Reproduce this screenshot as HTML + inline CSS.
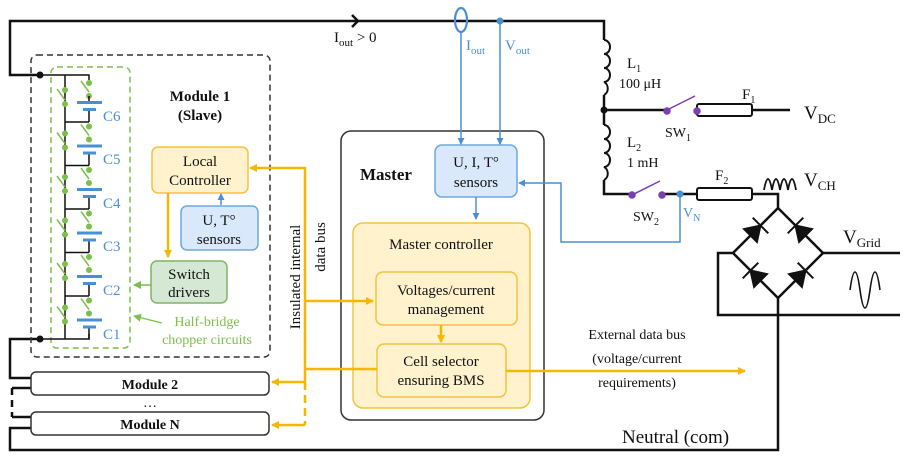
<!DOCTYPE html>
<html><head><meta charset="utf-8"><style>
body{margin:0;background:#fff}
svg{display:block}
text{font-family:"Liberation Serif",serif;fill:#111}
.b{fill:#4a8fd6}.g{fill:#7cbf4a}
</style></head><body>
<svg width="904" height="457" viewBox="0 0 904 457" xmlns="http://www.w3.org/2000/svg">
<defs>
<marker id="ay" markerWidth="8" markerHeight="8" refX="7" refY="4" orient="auto" markerUnits="userSpaceOnUse"><path d="M0,0L8,4L0,8z" fill="#f5b800"/></marker>
<marker id="ab" markerWidth="7" markerHeight="7" refX="6" refY="3.5" orient="auto" markerUnits="userSpaceOnUse"><path d="M0,0L7,3.5L0,7z" fill="#4a8fd6"/></marker>
<marker id="ag" markerWidth="8" markerHeight="8" refX="7" refY="4" orient="auto" markerUnits="userSpaceOnUse"><path d="M0,0L8,4L0,8z" fill="#7cbf4a"/></marker>
</defs>
<g fill="none" stroke="#111" stroke-width="2.5">
<polyline points="40,75 10,75 10,21 604,21 604,40"/>
<polyline points="604,95 604,125"/>
<polyline points="604,180 604,194 632,194"/>
<polyline points="662,194 697,194"/>
<polyline points="752,194 778,194 778,208 823,253 778,298 733,253 778,208"/>
<polyline points="823,253 900,253"/>
<polyline points="733,253 718,253 718,315 900,315"/>
<polyline points="778,298 778,450 10,450 10,428 31,428"/>
<polyline points="604,110 667,110"/>
<polyline points="697,110 697,110"/>
<polyline points="752,110 790,110"/>
<polyline points="40,339 10,339 10,378 31,378"/>
<polyline points="31,388 12,388"/>
<polyline points="12,388 12,417" stroke-dasharray="7,5"/>
<polyline points="12,417 31,417"/>
<path d="M352,15L358,21L352,27"/>
</g>
<g fill="none" stroke="#111" stroke-width="2">
<path d="M604,40 a6,7 0 0 1 0,14 a6,7 0 0 1 0,14 a6,7 0 0 1 0,14 a6,7 0 0 1 0,13"/>
<path d="M604,125 a6,7 0 0 1 0,14 a6,7 0 0 1 0,14 a6,7 0 0 1 0,14 a6,7 0 0 1 0,13"/>
<rect x="697" y="104" width="55" height="12" rx="2"/>
<rect x="697" y="188" width="55" height="12" rx="2"/>
<path d="M764,190 q4,-22 8,0 q4,-22 8,0 q4,-22 8,0 q4,-22 8,0" stroke-width="1.8"/>
<path d="M850,290 q5,-36 10,0 t10,0 t10,0" stroke-width="1.6"/>
</g>
<circle cx="604" cy="110" r="3.5" fill="#111"/>
<g stroke="#7b3fb0" stroke-width="1.5" fill="#7b3fb0">
<line x1="667" y1="110" x2="695" y2="96"/><circle cx="667" cy="111" r="3"/><circle cx="697" cy="111" r="3"/>
<line x1="632" y1="195" x2="660" y2="181"/><circle cx="632" cy="195" r="3"/><circle cx="662" cy="195" r="3"/>
</g>
<!-- diodes -->
<g fill="#111" stroke="#111" stroke-width="2">
<path d="M760.5,225.5L756.9,241.9L744.1,229.1z"/><line x1="768.3" y1="233.3" x2="752.7" y2="217.7"/>
<path d="M795.5,225.5L811.9,229.1L799.1,241.9z"/><line x1="803.3" y1="217.7" x2="787.7" y2="233.3"/>
<path d="M750.5,270.5L766.9,274.1L754.1,286.9z"/><line x1="758.3" y1="262.7" x2="742.7" y2="278.3"/>
<path d="M805.5,270.5L801.9,286.9L789.1,274.1z"/><line x1="813.3" y1="278.3" x2="797.7" y2="262.7"/>
</g>
<text x="627" y="68" font-size="15">L<tspan font-size="10" dy="4">1</tspan></text>
<text x="619" y="88" font-size="14">100 μH</text>
<text x="742" y="99" font-size="15">F<tspan font-size="10" dy="4">1</tspan></text>
<text x="804" y="119" font-size="19">V<tspan font-size="13" dy="4">DC</tspan></text>
<text x="665" y="137" font-size="14">SW<tspan font-size="10" dy="4">1</tspan></text>
<text x="627" y="147" font-size="15">L<tspan font-size="10" dy="4">2</tspan></text>
<text x="627" y="167" font-size="14">1 mH</text>
<text x="715" y="180" font-size="15">F<tspan font-size="10" dy="4">2</tspan></text>
<text x="804" y="186" font-size="19">V<tspan font-size="13" dy="4">CH</tspan></text>
<text x="633" y="221" font-size="14">SW<tspan font-size="10" dy="4">2</tspan></text>
<text x="683" y="217" font-size="14" class="b">V<tspan font-size="10" dy="4">N</tspan></text>
<text x="843" y="243" font-size="19">V<tspan font-size="13" dy="4">Grid</tspan></text>
<text x="334" y="42" font-size="15">I<tspan font-size="11" dy="4">out</tspan><tspan dy="-4"> &gt; 0</tspan></text>
<text x="622" y="443" font-size="19">Neutral (com)</text>
<text x="637" y="339" font-size="14" text-anchor="middle">External  data bus</text>
<text x="637" y="363" font-size="14" text-anchor="middle">(voltage/current</text>
<text x="637" y="387" font-size="14" text-anchor="middle">requirements)</text>
<!-- module 1 -->
<rect x="31" y="55" width="239" height="302" rx="6" fill="none" stroke="#333" stroke-width="1.5" stroke-dasharray="6,4"/>
<rect x="51" y="67" width="79" height="281" rx="6" fill="none" stroke="#7cbf4a" stroke-width="1.5" stroke-dasharray="6,4"/>
<text x="200" y="101" font-size="15" font-weight="bold" text-anchor="middle">Module 1</text>
<text x="200" y="120" font-size="15" font-weight="bold" text-anchor="middle">(Slave)</text>
<g stroke="#111" stroke-width="1.5" fill="none">
<polyline points="40,75 89,75 89,80"/>
<line x1="65" y1="75" x2="65" y2="339"/>
<polyline points="40,339 89,339 89,334"/>
</g>
<circle cx="40" cy="75" r="3.5" fill="#111"/><circle cx="40" cy="339" r="3.5" fill="#111"/>
<g>
<g transform="translate(0,0)"><line x1="65" y1="122" x2="89" y2="122" stroke="#111" stroke-width="1.5"/><line x1="89" y1="108" x2="89" y2="122" stroke="#111" stroke-width="1.5"/><line x1="57" y1="89" x2="65" y2="100" stroke="#7cbf4a" stroke-width="1.5"/><circle cx="65" cy="90" r="3" class="g"/><circle cx="65" cy="104" r="3" class="g"/><line x1="81" y1="81" x2="89" y2="92" stroke="#7cbf4a" stroke-width="1.5"/><circle cx="89" cy="83" r="3" class="g"/><circle cx="89" cy="96" r="3" class="g"/><line x1="89" y1="96" x2="89" y2="102" stroke="#111" stroke-width="1.5"/><rect x="77" y="101" width="25" height="3" class="b"/><rect x="83" y="108" width="13" height="3" class="b"/></g>
<g transform="translate(0,43.5)"><line x1="65" y1="122" x2="89" y2="122" stroke="#111" stroke-width="1.5"/><line x1="89" y1="108" x2="89" y2="122" stroke="#111" stroke-width="1.5"/><line x1="57" y1="89" x2="65" y2="100" stroke="#7cbf4a" stroke-width="1.5"/><circle cx="65" cy="90" r="3" class="g"/><circle cx="65" cy="104" r="3" class="g"/><line x1="81" y1="81" x2="89" y2="92" stroke="#7cbf4a" stroke-width="1.5"/><circle cx="89" cy="83" r="3" class="g"/><circle cx="89" cy="96" r="3" class="g"/><rect x="77" y="101" width="25" height="3" class="b"/><rect x="83" y="108" width="13" height="3" class="b"/></g>
<g transform="translate(0,87)"><line x1="65" y1="122" x2="89" y2="122" stroke="#111" stroke-width="1.5"/><line x1="89" y1="108" x2="89" y2="122" stroke="#111" stroke-width="1.5"/><line x1="57" y1="89" x2="65" y2="100" stroke="#7cbf4a" stroke-width="1.5"/><circle cx="65" cy="90" r="3" class="g"/><circle cx="65" cy="104" r="3" class="g"/><line x1="81" y1="81" x2="89" y2="92" stroke="#7cbf4a" stroke-width="1.5"/><circle cx="89" cy="83" r="3" class="g"/><circle cx="89" cy="96" r="3" class="g"/><rect x="77" y="101" width="25" height="3" class="b"/><rect x="83" y="108" width="13" height="3" class="b"/></g>
<g transform="translate(0,130.5)"><line x1="65" y1="122" x2="89" y2="122" stroke="#111" stroke-width="1.5"/><line x1="89" y1="108" x2="89" y2="122" stroke="#111" stroke-width="1.5"/><line x1="57" y1="89" x2="65" y2="100" stroke="#7cbf4a" stroke-width="1.5"/><circle cx="65" cy="90" r="3" class="g"/><circle cx="65" cy="104" r="3" class="g"/><line x1="81" y1="81" x2="89" y2="92" stroke="#7cbf4a" stroke-width="1.5"/><circle cx="89" cy="83" r="3" class="g"/><circle cx="89" cy="96" r="3" class="g"/><rect x="77" y="101" width="25" height="3" class="b"/><rect x="83" y="108" width="13" height="3" class="b"/></g>
<g transform="translate(0,174)"><line x1="65" y1="122" x2="89" y2="122" stroke="#111" stroke-width="1.5"/><line x1="89" y1="108" x2="89" y2="122" stroke="#111" stroke-width="1.5"/><line x1="57" y1="89" x2="65" y2="100" stroke="#7cbf4a" stroke-width="1.5"/><circle cx="65" cy="90" r="3" class="g"/><circle cx="65" cy="104" r="3" class="g"/><line x1="81" y1="81" x2="89" y2="92" stroke="#7cbf4a" stroke-width="1.5"/><circle cx="89" cy="83" r="3" class="g"/><circle cx="89" cy="96" r="3" class="g"/><rect x="77" y="101" width="25" height="3" class="b"/><rect x="83" y="108" width="13" height="3" class="b"/></g>
<g transform="translate(0,217.5)"><line x1="89" y1="108" x2="89" y2="122" stroke="#111" stroke-width="1.5"/><line x1="57" y1="89" x2="65" y2="100" stroke="#7cbf4a" stroke-width="1.5"/><circle cx="65" cy="90" r="3" class="g"/><circle cx="65" cy="104" r="3" class="g"/><line x1="81" y1="81" x2="89" y2="92" stroke="#7cbf4a" stroke-width="1.5"/><circle cx="89" cy="83" r="3" class="g"/><circle cx="89" cy="96" r="3" class="g"/><rect x="77" y="101" width="25" height="3" class="b"/><rect x="83" y="108" width="13" height="3" class="b"/></g>
</g>
<g font-size="15">
<text x="103" y="121" class="b">C6</text><text x="103" y="164" class="b">C5</text><text x="103" y="208" class="b">C4</text>
<text x="103" y="251" class="b">C3</text><text x="103" y="295" class="b">C2</text><text x="103" y="339" class="b">C1</text>
</g>
<rect x="152" y="147" width="96" height="46" rx="6" fill="#fff2cc" stroke="#f5c242" stroke-width="1.5"/>
<text x="200" y="166" font-size="15" text-anchor="middle">Local</text>
<text x="200" y="185" font-size="15" text-anchor="middle">Controller</text>
<rect x="181" y="206" width="77" height="44" rx="6" fill="#dae8fc" stroke="#6fa8dc" stroke-width="1.5"/>
<text x="219" y="225" font-size="15" text-anchor="middle">U, T°</text>
<text x="219" y="244" font-size="15" text-anchor="middle">sensors</text>
<rect x="151" y="261" width="76" height="42" rx="6" fill="#d5e8d4" stroke="#82b366" stroke-width="1.5"/>
<text x="189" y="279" font-size="15" text-anchor="middle">Switch</text>
<text x="189" y="297" font-size="15" text-anchor="middle">drivers</text>
<line x1="168" y1="193" x2="168" y2="257" stroke="#f5b800" stroke-width="2.5" marker-end="url(#ay)"/>
<line x1="151" y1="285" x2="134" y2="285" stroke="#7cbf4a" stroke-width="1.5" marker-end="url(#ag)"/>
<line x1="162" y1="323" x2="134" y2="316" stroke="#7cbf4a" stroke-width="1.2" marker-end="url(#ag)"/>
<text x="207" y="326" font-size="14" text-anchor="middle" class="g">Half-bridge</text>
<text x="207" y="344" font-size="14" text-anchor="middle" class="g">chopper circuits</text>
<rect x="31" y="372" width="238" height="23" rx="5" fill="#fff" stroke="#333" stroke-width="1.5"/>
<text x="150" y="389" font-size="14" font-weight="bold" text-anchor="middle">Module 2</text>
<text x="150" y="407" font-size="14" text-anchor="middle">…</text>
<rect x="31" y="412" width="238" height="23" rx="5" fill="#fff" stroke="#333" stroke-width="1.5"/>
<text x="150" y="429" font-size="14" font-weight="bold" text-anchor="middle">Module N</text>
<!-- master -->
<rect x="341" y="131" width="203" height="289" rx="10" fill="#fff" stroke="#333" stroke-width="1.5"/>
<text x="360" y="180" font-size="17" font-weight="bold">Master</text>
<rect x="435" y="145" width="82" height="52" rx="7" fill="#dae8fc" stroke="#6fa8dc" stroke-width="1.5"/>
<text x="476" y="167" font-size="15" text-anchor="middle">U, I, T°</text>
<text x="476" y="187" font-size="15" text-anchor="middle">sensors</text>
<rect x="353" y="223" width="177" height="185" rx="10" fill="#fff2cc" stroke="#f5c242" stroke-width="1.5"/>
<text x="441" y="249" font-size="15" text-anchor="middle">Master controller</text>
<rect x="376" y="272" width="141" height="53" rx="7" fill="#fff2cc" stroke="#f5c242" stroke-width="1.5"/>
<text x="446" y="295" font-size="15" text-anchor="middle">Voltages/current</text>
<text x="446" y="314" font-size="15" text-anchor="middle">management</text>
<rect x="377" y="344" width="129" height="53" rx="7" fill="#fff2cc" stroke="#f5c242" stroke-width="1.5"/>
<text x="441" y="366" font-size="15" text-anchor="middle">Cell selector</text>
<text x="441" y="385" font-size="15" text-anchor="middle">ensuring BMS</text>
<line x1="441" y1="325" x2="441" y2="342" stroke="#f5b800" stroke-width="2.5" marker-end="url(#ay)"/>
<!-- blue sensing (after master) -->
<g fill="none" stroke="#4a8fd6" stroke-width="1.5">
<ellipse cx="461" cy="20" rx="6" ry="12" stroke-width="2.2"/>
<line x1="461" y1="32" x2="461" y2="144" marker-end="url(#ab)"/>
<line x1="500" y1="21" x2="500" y2="144" marker-end="url(#ab)"/>
<line x1="476" y1="197" x2="476" y2="219" marker-end="url(#ab)"/>
<polyline points="680,194 680,242 561,242 561,183 519,183" marker-end="url(#ab)"/>
<line x1="221" y1="205" x2="221" y2="194" marker-end="url(#ab)"/>
</g>
<circle cx="500" cy="21" r="3.5" fill="#4a8fd6"/><circle cx="680" cy="194" r="3.5" fill="#4a8fd6"/>
<text x="466" y="50" font-size="15" class="b">I<tspan font-size="11" dy="4">out</tspan></text>
<text x="505" y="50" font-size="15" class="b">V<tspan font-size="11" dy="4">out</tspan></text>
<!-- yellow bus -->
<g fill="none" stroke="#f5b800" stroke-width="2.5">
<polyline points="305,382 305,168 250,168" marker-end="url(#ay)"/>
<line x1="305" y1="301" x2="373" y2="301" marker-end="url(#ay)"/>
<line x1="305" y1="369" x2="377" y2="369"/>
<line x1="305" y1="382" x2="272" y2="382" marker-end="url(#ay)"/>
<line x1="305" y1="382" x2="305" y2="425" stroke-dasharray="8,5"/>
<line x1="305" y1="425" x2="272" y2="425" marker-end="url(#ay)"/>
<line x1="506" y1="371" x2="745" y2="371" marker-end="url(#ay)"/>
</g>
<text transform="translate(300,277) rotate(-90)" font-size="15" text-anchor="middle">Insulated internal</text>
<text transform="translate(325,247) rotate(-90)" font-size="15" text-anchor="middle">data bus</text>
</svg>
</body></html>
